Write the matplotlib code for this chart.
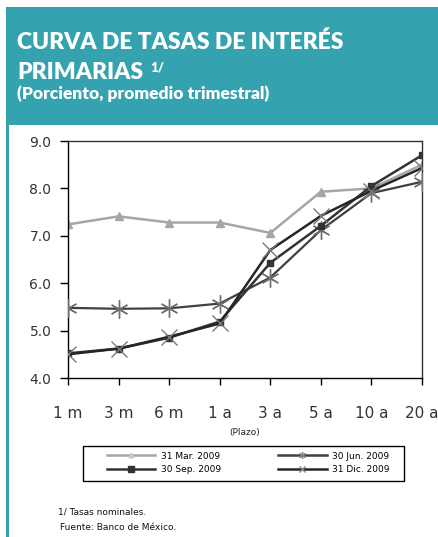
import matplotlib.pyplot as plt
from matplotlib.patches import Rectangle
from matplotlib.lines import Line2D

plazos = ["1 m", "3 m", "6 m", "1 a", "3 a", "5 a", "10 a", "20 a"]
mar_2009 = [7.24, 7.41, 7.28, 7.28, 7.06, 7.93, 8.00, 8.50]
jun_2009 = [5.48, 5.46, 5.47, 5.57, 6.12, 7.12, 7.90, 8.14]
sep_2009 = [4.52, 4.62, 4.85, 5.19, 6.43, 7.21, 8.05, 8.70]
dic_2009 = [4.50, 4.62, 4.87, 5.15, 6.70, 7.42, 7.95, 8.43]
series_names = ["31 Mar. 2009", "30 Jun. 2009", "30 Sep. 2009", "31 Dic. 2009"]

teal = "#35a3af"

fig = plt.figure(figsize=(4.38, 5.37), dpi=100)
W, H = 438, 537

# header band and left border
fig.patches.append(Rectangle((6 / W, 1 - 125 / H), 1, 118 / H, transform=fig.transFigure,
                             facecolor=teal, edgecolor="none", zorder=0))
fig.patches.append(Rectangle((6 / W, 0), 2.5 / W, 1 - 125 / H, transform=fig.transFigure,
                             facecolor=teal, edgecolor="none", zorder=0))

fig.text(17 / W, 1 - 49 / H, "CURVA DE TASAS DE INTERÉS", color="white",
         fontsize=16.5, fontweight="heavy", family="Lato", va="baseline")
fig.text(17 / W, 1 - 79 / H, "PRIMARIAS", color="white",
         fontsize=16.5, fontweight="heavy", family="Lato", va="baseline")
fig.text(150 / W, 1 - 72 / H, "1/", color="white",
         fontsize=9.5, fontweight="heavy", family="Lato", va="baseline")
fig.text(17 / W, 1 - 99 / H, "(Porciento, promedio trimestral)", color="white",
         fontsize=12.5, fontweight="heavy", family="Lato", va="baseline")

ax = fig.add_axes([68 / W, 1 - 378 / H, 354 / W, 237 / H])
x = list(range(len(plazos)))

ax.plot(x, mar_2009, color="#a6a6a6", lw=1.8, marker="^", ms=6,
        mfc="#a6a6a6", mec="#a6a6a6", label=series_names[0], zorder=2)
ax.plot(x, jun_2009, color="#404040", lw=1.6, marker=(6, 2, 0), ms=13,
        mec="#707070", mew=1.0, label=series_names[1], zorder=3)
ax.plot(x, sep_2009, color="#333333", lw=1.8, marker="s", ms=4.5,
        mfc="#333333", mec="#333333", label=series_names[2], zorder=4)
ax.plot(x, dic_2009, color="#262626", lw=1.8, marker="x", ms=11,
        mec="#7a7a7a", mew=1.0, label=series_names[3], zorder=5)

ax.set_xlim(0, 7)
ax.set_ylim(4, 9)
ax.set_yticks([4, 5, 6, 7, 8, 9])
ax.set_yticklabels(["4.0", "5.0", "6.0", "7.0", "8.0", "9.0"])
ax.set_xticks(x)
ax.set_xticklabels(plazos)
ax.tick_params(axis="y", direction="out", length=6, width=1, pad=6,
               labelsize=10, labelcolor="#333333")
ax.tick_params(axis="x", direction="out", length=5, width=1, pad=15,
               labelsize=11, labelcolor="#333333")
for s in ax.spines.values():
    s.set_color("#333333")
    s.set_linewidth(1)
ax.spines["left"].set_color("#000000")
ax.spines["bottom"].set_color("#000000")

fig.text(245 / W, 1 - 432 / H, "(Plazo)", ha="center", va="center",
         fontsize=6.5, color="#222222")

# legend box
fig.patches.append(Rectangle((83 / W, 1 - 481 / H), 321 / W, 35 / H,
                             transform=fig.transFigure, facecolor="none",
                             edgecolor="black", lw=1, zorder=5))
labels = [series_names[0], series_names[2], series_names[1], series_names[3]]
leg_handles = [
    Line2D([], [], color="#a6a6a6", lw=1.8, marker="^", ms=3.5, mfc="#c8c8c8", mec="#c8c8c8"),
    Line2D([], [], color="#333333", lw=1.8, marker="s", ms=4, mfc="#333333", mec="#333333"),
    Line2D([], [], color="#404040", lw=1.8, marker=(6, 2, 0), ms=5, mec="#808080"),
    Line2D([], [], color="#262626", lw=1.8, marker="x", ms=4, mec="#808080"),
]
fig.legend(leg_handles, labels, loc="center", bbox_to_anchor=(248 / W, 1 - 463 / H),
           ncol=2, frameon=False, fontsize=6.5, handlelength=5.4, handletextpad=0.6,
           columnspacing=6.3, labelspacing=0.55)

fig.text(58 / W, 1 - 512 / H, "1/ Tasas nominales.", fontsize=6.5, va="center",
         color="#111111")
fig.text(60 / W, 1 - 527 / H, "Fuente: Banco de México.", fontsize=6.5, va="center",
         color="#111111")

fig.savefig("out.png", dpi=100)
